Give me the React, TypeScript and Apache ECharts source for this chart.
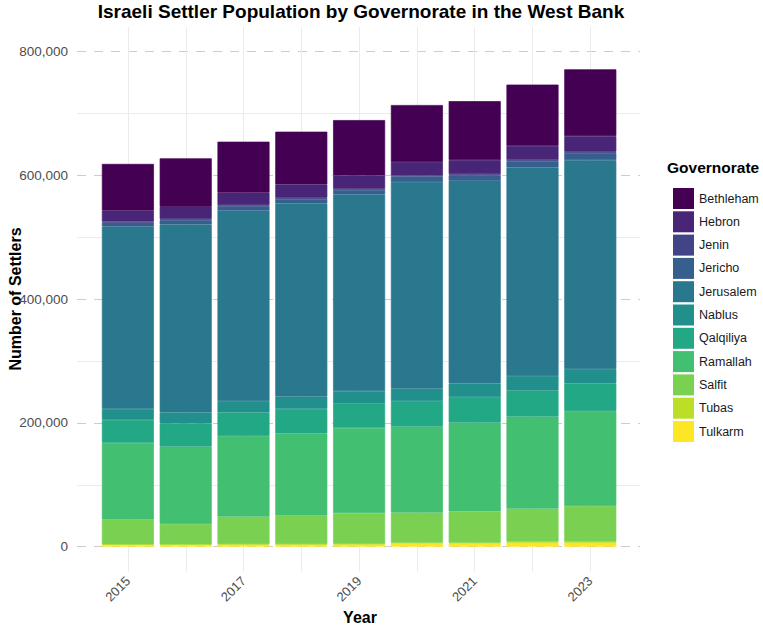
import React, { useEffect, useRef } from "react";
import * as echarts from "echarts";

const years = ["2015", "2016", "2017", "2018", "2019", "2020", "2021", "2022", "2023"];
const governorates = [
  "Bethleham", "Hebron", "Jenin", "Jericho", "Jerusalem", "Nablus",
  "Qalqiliya", "Ramallah", "Salfit", "Tubas", "Tulkarm",
];
const colors = [
  "#440154", "#482576", "#414487", "#35608D", "#2A788E", "#21908C",
  "#22A884", "#43BF71", "#7AD151", "#BBDF27", "#FDE725",
];

const bethleham = [75500, 78200, 82400, 85000, 89400, 92100, 95300, 99100, 107800];
const hebron = [17800, 19900, 19900, 21700, 21700, 21500, 22600, 22600, 25400];
const jenin = [1700, 1700, 1800, 1800, 1800, 1800, 1800, 1900, 1900];
const jericho = [6300, 6800, 7400, 7200, 7200, 9000, 9000, 10000, 11500];
const jerusalem = [294600, 303800, 307500, 312500, 317900, 334000, 327400, 337300, 337700];
const nablus = [17800, 17800, 18300, 19900, 19700, 19900, 22100, 23800, 23100];
const qalqiliya = [37200, 37800, 38300, 39300, 39600, 41500, 41500, 42000, 44800];
const ramallah = [124000, 124900, 130400, 132500, 137800, 139000, 143200, 148700, 153500];
const salfit = [39800, 32800, 44100, 46400, 49600, 48500, 50700, 53300, 57700];
const tubas = [800, 800, 1000, 1000, 1100, 1200, 1200, 1300, 1300];
const tulkarm = [3100, 3100, 3400, 3400, 3700, 5300, 5300, 6800, 6800];

const valuesByGov: number[][] = [
  bethleham, hebron, jenin, jericho, jerusalem, nablus,
  qalqiliya, ramallah, salfit, tubas, tulkarm,
];

const yTicks = { min: 0, max: 800000, interval: 200000 };

const FONT = "'Liberation Sans', Arial, Helvetica, sans-serif";

export default function App() {
  const ref = useRef<HTMLDivElement>(null);

  useEffect(() => {
    if (!ref.current) return;
    const chart = echarts.init(ref.current, null, { renderer: "svg" });

    // stack bottom-up: last governorate at the bottom
    const order = governorates.map((_, i) => i).reverse();
    const series = order.map((i) => ({
      name: governorates[i],
      type: "bar",
      stack: "total",
      xAxisIndex: 2,
      yAxisIndex: 2,
      barWidth: "90%",
      data: valuesByGov[i],
      itemStyle: { color: colors[i], borderColor: colors[i], borderWidth: 0.7 },
      emphasis: { disabled: true },
    }));

    chart.setOption({
      animation: false,
      backgroundColor: "#ffffff",
      textStyle: { fontFamily: FONT },
      grid: [
        { left: 128, right: 172.7, top: 27, bottom: 54.3 },
        { left: 77, right: 123, top: 51.7, bottom: 79.3 },
        { left: 99, right: 143.8, top: 51.7, bottom: 79.3 },
      ],
      xAxis: [
        {
          gridIndex: 0,
          type: "category",
          data: years,
          boundaryGap: false,
          axisLine: { show: false },
          axisTick: { show: false },
          splitLine: { show: true, interval: 0, lineStyle: { color: "#ebebeb", width: 1 } },
          axisLabel: {
            interval: 1,
            rotate: 45,
            color: "#4d4d4d",
            fontSize: 13,
            fontFamily: FONT,
            margin: 7,
          },
        },
        { gridIndex: 1, type: "category", data: years, show: false },
        { gridIndex: 2, type: "category", data: years, show: false },
      ],
      yAxis: [
        { gridIndex: 0, type: "value", show: false },
        {
          gridIndex: 1,
          type: "value",
          min: yTicks.min,
          max: yTicks.max,
          interval: yTicks.interval,
          axisLine: { show: false },
          axisTick: { show: false },
          splitLine: { show: true, lineStyle: { color: "#cccccc", type: [9, 8], width: 1.1 } },
          minorTick: { show: false, splitNumber: 2 },
          minorSplitLine: { show: true, lineStyle: { color: "#ebebeb", width: 1 } },
          axisLabel: {
            color: "#4d4d4d",
            fontSize: 13.5,
            fontFamily: FONT,
            margin: 9,
            formatter: (v: number) => v.toLocaleString("en-US"),
          },
        },
        { gridIndex: 2, type: "value", min: yTicks.min, max: yTicks.max, show: false },
      ],
      legend: {
        orient: "vertical",
        left: 668,
        top: 183,
        itemWidth: 21,
        itemHeight: 21,
        itemGap: 2.3,
        icon: "rect",
        selectedMode: false,
        data: governorates,
        itemStyle: { borderWidth: 0 },
        textStyle: { fontSize: 12.5, color: "#1a1a1a", fontFamily: FONT },
      },
      graphic: [
        {
          type: "text",
          x: 361,
          y: 11,
          style: {
            text: "Israeli Settler Population by Governorate in the West Bank",
            font: `bold 19px ${FONT}`,
            fill: "#000000",
            textAlign: "center",
            textVerticalAlign: "middle",
          },
        },
        {
          type: "text",
          x: 360,
          y: 617,
          style: {
            text: "Year",
            font: `bold 16px ${FONT}`,
            fill: "#000000",
            textAlign: "center",
            textVerticalAlign: "middle",
          },
        },
        {
          type: "text",
          x: 15,
          y: 299,
          rotation: Math.PI / 2,
          style: {
            text: "Number of Settlers",
            font: `bold 16px ${FONT}`,
            fill: "#000000",
            textAlign: "center",
            textVerticalAlign: "middle",
          },
        },
        {
          type: "text",
          x: 667,
          y: 167,
          style: {
            text: "Governorate",
            font: `bold 15.5px ${FONT}`,
            fill: "#000000",
            textAlign: "left",
            textVerticalAlign: "middle",
          },
        },
      ],
      series,
    });

    return () => chart.dispose();
  }, []);

  return (
    <div
      ref={ref}
      style={{ position: "fixed", left: 0, top: 0, width: 763, height: 626 }}
    />
  );
}
